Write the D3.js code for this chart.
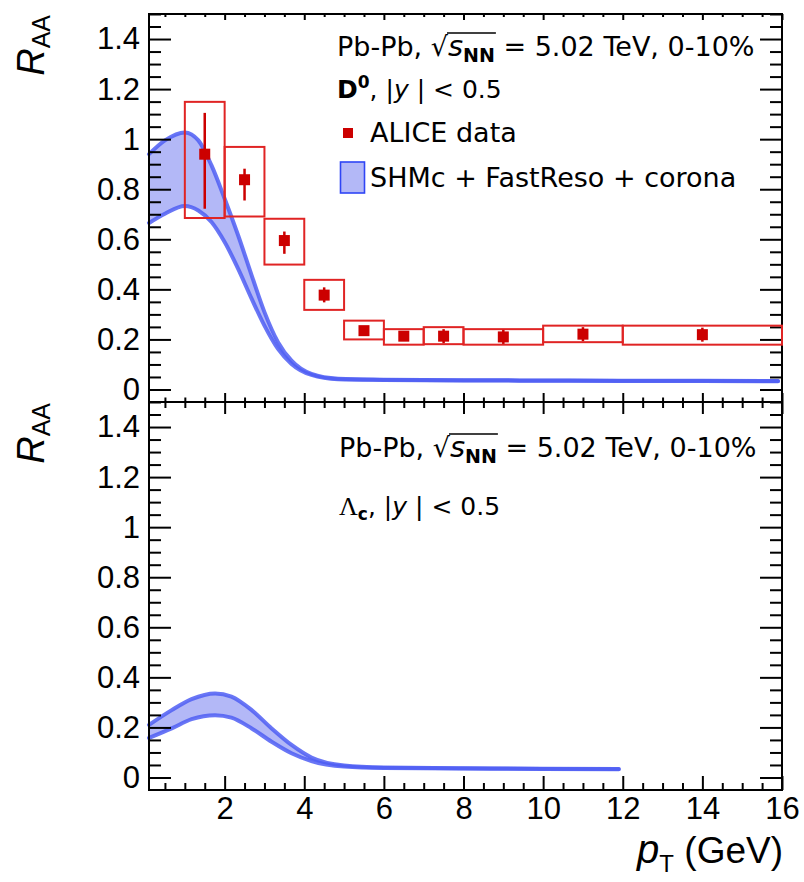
<!DOCTYPE html>
<html>
<head>
<meta charset="utf-8">
<script src="https://cdn.jsdelivr.net/npm/d3@7"></script>
<style>
  body { margin: 0; background: #fff; }
  svg { display: block; }
  .tick text { font-family: 'Liberation Sans', Arial, sans-serif; font-size: 31px; fill: #000; }
  .tick line { stroke: #000; stroke-width: 2px; }
  .leg { font-family: 'DejaVu Sans', sans-serif; font-size: 27px; fill: #000; }
  .leg.corta { font-size: 25px; }
</style>
</head>
<body>
<div id="graf"></div>
<script>
// I. Datos
// D0, ALICE
ptD0    = [1.5, 2.5, 3.5, 4.5, 5.5, 6.5, 7.5, 9, 11, 14]
ptD0_lo = [1, 2, 3, 4, 5, 6, 7, 8, 10, 12]
ptD0_hi = [2, 3, 4, 5, 6, 7, 8, 10, 12, 16]
raaD0   = [0.94, 0.838, 0.595, 0.377, 0.235, 0.213, 0.213, 0.21, 0.221, 0.219]
statUp  = [0.165, 0.044, 0.036, 0.031, 0.015, 0.015, 0.028, 0.028, 0.028, 0.028]
statDn  = [0.218, 0.083, 0.053, 0.029, 0.015, 0.015, 0.028, 0.028, 0.028, 0.028]
sysUp   = [0.209, 0.131, 0.087, 0.061, 0.04, 0.028, 0.036, 0.031, 0.034, 0.036]
sysDn   = [0.255, 0.147, 0.096, 0.059, 0.035, 0.034, 0.032, 0.031, 0.032, 0.04]

// modelo SHMc + FastReso + corona, D0
ptBandD0 = [0.1, 0.5, 1.0, 1.34, 1.67, 2.0, 2.34, 2.68, 3.0, 3.34, 3.68, 4.18, 4.85, 6, 8, 10, 12, 14, 15.9]
hiBandD0 = [0.94, 0.995, 1.027, 0.995, 0.895, 0.762, 0.615, 0.455, 0.309, 0.189, 0.115, 0.062, 0.043, 0.039, 0.037, 0.036, 0.035, 0.035, 0.034]
loBandD0 = [0.665, 0.702, 0.733, 0.715, 0.669, 0.589, 0.482, 0.362, 0.255, 0.162, 0.102, 0.058, 0.041, 0.038, 0.036, 0.035, 0.034, 0.034, 0.033]

// modelo, Lambda_c
ptBandLc = [0.1, 0.67, 1.17, 1.76, 2.17, 2.68, 3.18, 3.68, 4.18, 5.0, 6, 8, 10, 11.9]
hiBandLc = [0.21, 0.269, 0.313, 0.336, 0.323, 0.269, 0.196, 0.13, 0.08, 0.048, 0.04, 0.037, 0.035, 0.034]
loBandLc = [0.158, 0.196, 0.233, 0.249, 0.239, 0.196, 0.143, 0.097, 0.066, 0.044, 0.038, 0.036, 0.034, 0.033]

// ticks
xMajor = [2, 4, 6, 8, 10, 12, 14, 16]
xMinor = d3.range(0.5, 16, 0.5).filter(v => v % 2 != 0)
yMajor = [0, 0.2, 0.4, 0.6, 0.8, 1, 1.2, 1.4]
yMinor = d3.range(0, 31).map(i => +(i * 0.05).toFixed(2)).filter(v => Math.round(v * 100) % 20 != 0)

// II. Configuración
ancho_total = 804
alto_total = 882
margins = { top: 14, left: 149, right: 22 }
ancho = ancho_total - margins.left - margins.right
altoPanel = 388

svg = d3.select('#graf').append('svg')
  .attr('width', ancho_total)
  .attr('height', alto_total)

x = d3.scaleLinear().domain([0.1, 16]).range([0, ancho])
y = d3.scaleLinear().domain([-0.05, 1.5]).range([altoPanel, 0])

colBand = '#b3b8f7'
colEdge = '#4f5ef3'
colRed = '#cc0000'
colBox = '#e02424'

// III. Dibujo de cada panel
function panel(top, pts, his, los, bottomPanel) {
  g = svg.append('g').attr('transform', `translate(${margins.left},${top})`)

  band = pts.map((p, i) => ({ pt: p, hi: his[i], lo: los[i] }))
  area = d3.area().x(d => x(d.pt)).y0(d => y(d.lo)).y1(d => y(d.hi)).curve(d3.curveMonotoneX)
  g.append('path').datum(band).attr('d', area).attr('fill', colBand)
  ;['hi', 'lo'].forEach(k => {
    g.append('path').datum(band)
      .attr('d', d3.line().x(d => x(d.pt)).y(d => y(d[k])).curve(d3.curveMonotoneX))
      .attr('fill', 'none').attr('stroke', colEdge).attr('stroke-width', 4)
      .attr('stroke-opacity', 0.85).attr('stroke-linecap', 'round')
  })

  // eje Y izquierdo
  g.append('g').call(d3.axisLeft(y).tickValues(yMajor).tickSize(-22).tickPadding(9)
      .tickFormat(d => d3.format('~g')(d)))
    .call(a => a.select('.domain').remove())
  g.append('g').call(d3.axisLeft(y).tickValues(yMinor).tickSize(-12).tickFormat(''))
    .call(a => a.select('.domain').remove())
  // eje Y derecho
  g.append('g').attr('transform', `translate(${ancho},0)`)
    .call(d3.axisRight(y).tickValues(yMajor).tickSize(-22).tickFormat(''))
    .call(a => a.select('.domain').remove())
  g.append('g').attr('transform', `translate(${ancho},0)`)
    .call(d3.axisRight(y).tickValues(yMinor).tickSize(-12).tickFormat(''))
    .call(a => a.select('.domain').remove())

  // eje X arriba
  big = bottomPanel ? 12 : 6
  g.append('g').call(d3.axisTop(x).tickValues(xMajor).tickSize(-big).tickFormat(''))
    .call(a => a.select('.domain').remove())
  g.append('g').call(d3.axisTop(x).tickValues(xMinor).tickSize(-big / 2).tickFormat(''))
    .call(a => a.select('.domain').remove())

  // eje X abajo
  low = bottomPanel ? 14 : 9
  g.append('g').attr('transform', `translate(0,${altoPanel})`)
    .call(d3.axisBottom(x).tickValues(xMajor).tickSize(-low).tickPadding(7)
      .tickFormat(bottomPanel ? d3.format('d') : ''))
    .call(a => a.select('.domain').remove())
  g.append('g').attr('transform', `translate(0,${altoPanel})`)
    .call(d3.axisBottom(x).tickValues(xMinor).tickSize(-low / 2).tickFormat(''))
    .call(a => a.select('.domain').remove())

  g.append('rect').attr('width', ancho).attr('height', altoPanel)
    .attr('fill', 'none').attr('stroke', '#000').attr('stroke-width', 2)

  // R_AA
  t = svg.append('text')
    .attr('transform', `translate(44,${top + 1}) rotate(-90)`)
    .attr('text-anchor', 'end')
    .attr('font-family', 'Liberation Sans, Arial, sans-serif')
  t.append('tspan').attr('font-style', 'italic').attr('font-size', 38).text('R')
  t.append('tspan').attr('font-size', 25).attr('dy', 6).text('AA')

  return g
}

function energia(g, x0, yb) {
  t = g.append('text').attr('class', 'leg').attr('x', x0).attr('y', yb)
  t.append('tspan').text('Pb-Pb, ')
  t.append('tspan').text('√')
  t.append('tspan').attr('font-style', 'italic').attr('font-size', 29).text('s')
  t.append('tspan').attr('font-size', 19).attr('font-weight', 'bold').attr('dy', 6).text('NN')
  t.append('tspan').attr('dy', -6).text(' = 5.02 TeV, 0-10%')
  n = t.node()
  a = n.getExtentOfChar(8)
  b = n.getExtentOfChar(10)
  g.append('line')
    .attr('x1', a.x - 1).attr('x2', b.x + b.width + 1)
    .attr('y1', yb - 23).attr('y2', yb - 23)
    .attr('stroke', '#000').attr('stroke-width', 1.6)
}

// panel superior: D0
gTop = panel(margins.top, ptBandD0, hiBandD0, loBandD0, false)

datos = ptD0.map((p, i) => ({
  pt: p, lo: ptD0_lo[i], hi: ptD0_hi[i], v: raaD0[i],
  su: statUp[i], sd: statDn[i], yu: sysUp[i], yd: sysDn[i]
}))

gTop.selectAll('rect.sys').data(datos).enter().append('rect')
  .attr('class', 'sys')
  .attr('x', d => x(d.lo))
  .attr('width', d => x(d.hi) - x(d.lo))
  .attr('y', d => y(d.v + d.yu))
  .attr('height', d => y(d.v - d.yd) - y(d.v + d.yu))
  .attr('fill', 'none').attr('stroke', colBox).attr('stroke-width', 2)

gTop.selectAll('line.stat').data(datos).enter().append('line')
  .attr('class', 'stat')
  .attr('x1', d => x(d.pt)).attr('x2', d => x(d.pt))
  .attr('y1', d => y(d.v + d.su)).attr('y2', d => y(d.v - d.sd))
  .attr('stroke', colRed).attr('stroke-width', 2.5)

gTop.selectAll('rect.pt').data(datos).enter().append('rect')
  .attr('class', 'pt')
  .attr('x', d => x(d.pt) - 5.5).attr('y', d => y(d.v) - 5.5)
  .attr('width', 11).attr('height', 11)
  .attr('fill', colRed)

// leyenda superior
leg = svg.append('g')
energia(leg, 337, 56)
t = leg.append('text').attr('class', 'leg corta').attr('x', 337).attr('y', 98)
t.append('tspan').attr('font-weight', 'bold').text('D')
t.append('tspan').attr('font-weight', 'bold').attr('font-size', 17).attr('dy', -10).text('0')
t.append('tspan').attr('dy', 10).text(', |')
t.append('tspan').attr('font-style', 'italic').text('y')
t.append('tspan').text(' | < 0.5')

leg.append('rect').attr('x', 343).attr('y', 128).attr('width', 10).attr('height', 10).attr('fill', colRed)
leg.append('text').attr('class', 'leg').attr('x', 370).attr('y', 142).text('ALICE data')
leg.append('rect').attr('x', 340.5).attr('y', 162).attr('width', 24).attr('height', 31)
  .attr('fill', colBand).attr('stroke', '#2f45f5').attr('stroke-width', 1.6)
leg.append('text').attr('class', 'leg').attr('x', 370).attr('y', 187).text('SHMc + FastReso + corona')

// panel inferior: Lambda_c
gBot = panel(margins.top + altoPanel, ptBandLc, hiBandLc, loBandLc, true)

energia(leg, 339, 457)
t = leg.append('text').attr('class', 'leg corta').attr('x', 339).attr('y', 515)
t.append('tspan').attr('font-family', 'Liberation Serif, serif').attr('font-size', 26).text('Λ')
t.append('tspan').attr('font-weight', 'bold').attr('font-size', 17).attr('dy', 5).text('c')
t.append('tspan').attr('dy', -5).text(', |')
t.append('tspan').attr('font-style', 'italic').text('y')
t.append('tspan').text(' | < 0.5')

// titulo eje X
t = svg.append('text').attr('x', 783).attr('y', 863).attr('text-anchor', 'end')
  .attr('font-family', 'Liberation Sans, Arial, sans-serif')
t.append('tspan').attr('font-style', 'italic').attr('font-size', 40).text('p')
t.append('tspan').attr('font-size', 24).attr('dy', 9).text('T')
t.append('tspan').attr('font-size', 37).attr('dy', -9).text(' (GeV)')
</script>
</body>
</html>
